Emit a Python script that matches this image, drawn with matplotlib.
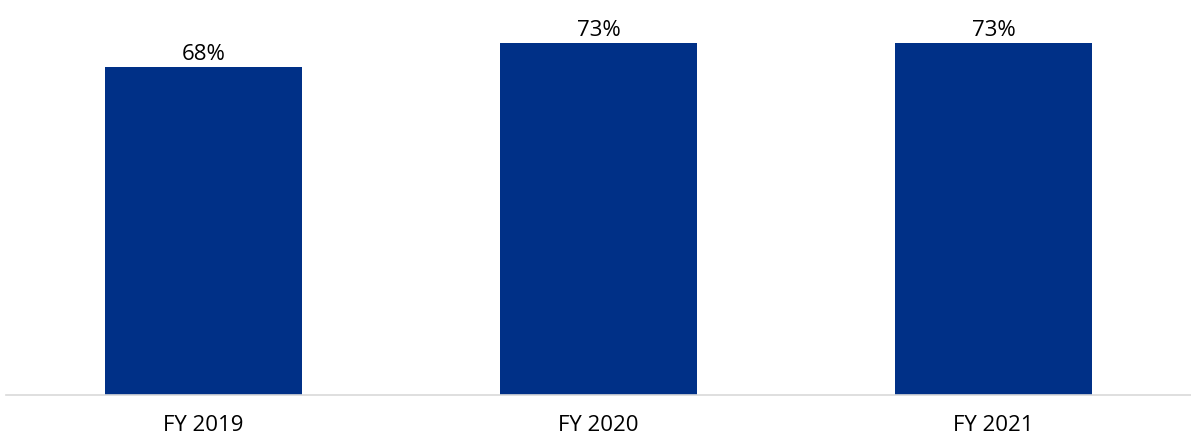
import matplotlib
matplotlib.use("Agg")
from matplotlib import pyplot as plt

years = ["FY 2019", "FY 2020", "FY 2021"]
pct = [68, 73, 73]

plt.rcParams['font.family'] = ['Open Sans', 'DejaVu Sans']

fig = plt.figure(figsize=(11.91, 4.39), dpi=100)
ax = fig.add_axes([0.005, 0.099, 0.995, 0.901])

x = range(len(years))
bars = ax.bar(x, pct, width=0.5, color='#003087')

for b, v in zip(bars, pct):
    ax.annotate(f"{v}%", (b.get_x() + b.get_width() / 2, v),
                xytext=(0, 6), textcoords='offset points',
                ha='center', va='baseline', fontsize=16, color='#000000')

ax.set_xlim(-0.5, 2.5)
ax.set_ylim(0, 82.2)
ax.set_xticks(list(x))
ax.set_xticklabels(years, fontsize=16)
ax.tick_params(axis='x', length=0, pad=14)
ax.set_yticks([])
for s in ['top', 'right', 'left']:
    ax.spines[s].set_visible(False)
ax.spines['bottom'].set_color('#d9d9d9')
ax.spines['bottom'].set_linewidth(1.2)

fig.savefig('out.png', dpi=100)
